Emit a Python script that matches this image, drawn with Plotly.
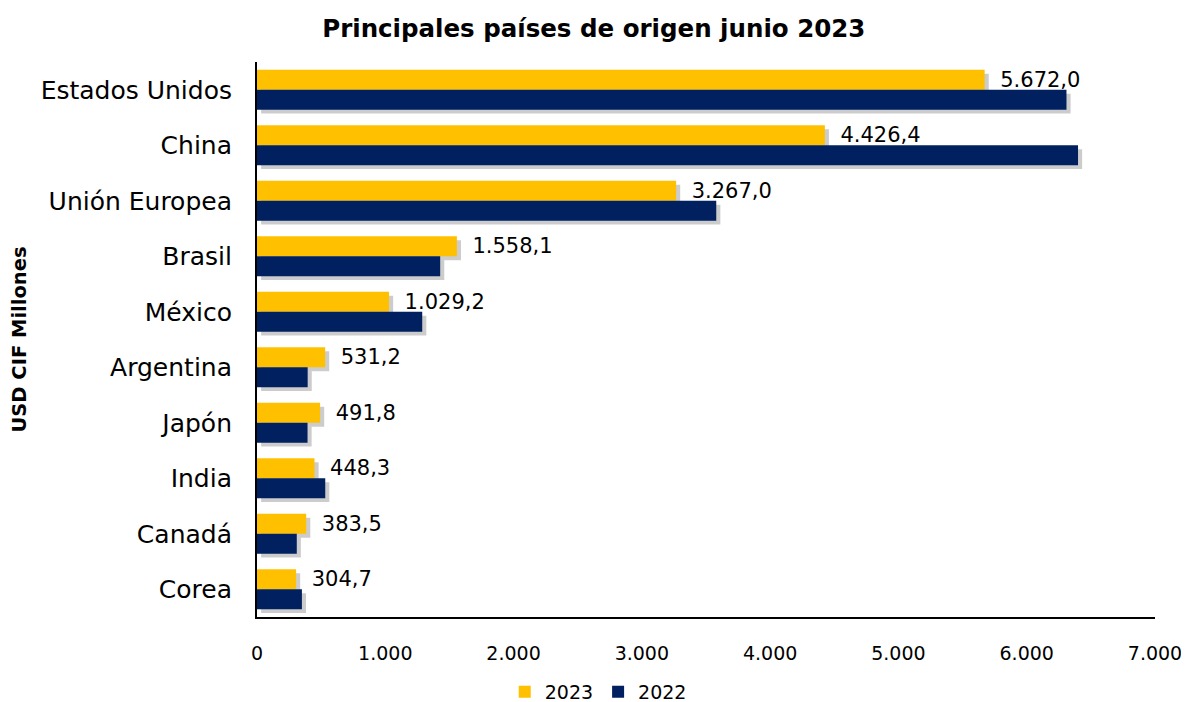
import plotly.graph_objects as go

paises = ["Estados Unidos", "China", "Unión Europea", "Brasil", "México",
          "Argentina", "Japón", "India", "Canadá", "Corea"]
valores_2023 = [5672.0, 4426.4, 3267.0, 1558.1, 1029.2,
                531.2, 491.8, 448.3, 383.5, 304.7]
valores_2022 = [6310, 6400, 3580, 1428, 1288, 395, 394, 532, 310, 350]
x_ticks = [0, 1000, 2000, 3000, 4000, 5000, 6000, 7000]

ORO = "#FFC000"
AZUL = "#002060"
SOMBRA = "rgba(0,0,0,0.2)"
FUENTE = "DejaVu Sans"

ANCHO = 0.36          # grosor de cada barra (unidades de categoría)
SOMBRA_DY = 0.07      # desplazamiento vertical de la sombra
SOMBRA_DX = 32        # desplazamiento horizontal de la sombra (USD)

fig = go.Figure()

# sombras estilo Excel, debajo de las barras
for vals, off in [(valores_2023, -ANCHO), (valores_2022, 0)]:
    fig.add_trace(go.Bar(
        y=paises, x=vals, base=SOMBRA_DX, orientation="h",
        width=ANCHO, offset=off + SOMBRA_DY,
        marker=dict(color=SOMBRA, line=dict(width=0)),
        showlegend=False, hoverinfo="skip",
    ))

fig.add_trace(go.Bar(
    y=paises, x=valores_2023, name="2023", orientation="h",
    width=ANCHO, offset=-ANCHO,
    marker=dict(color=ORO, line=dict(width=0)),
    texttemplate="\u2002\u200a%{x:,.1f}", textposition="outside",
    constraintext="none",
    textfont=dict(family=FUENTE, size=21, color="#000000"),
    cliponaxis=False,
))
fig.add_trace(go.Bar(
    y=paises, x=valores_2022, name="2022", orientation="h",
    width=ANCHO, offset=0,
    marker=dict(color=AZUL, line=dict(width=0)),
))

# la página añade 8px de margen, por eso la figura es 8px menor
fig.update_layout(
    width=1181, height=694,
    barmode="overlay",
    separators=",.",
    plot_bgcolor="white", paper_bgcolor="white",
    margin=dict(l=249, r=34, t=54, b=85, autoexpand=False),
    font=dict(family=FUENTE, color="#000000"),
    title=dict(text="<b>Principales países de origen junio 2023</b>",
               x=0.496, xanchor="center", y=1 - 20 / 694, yanchor="middle",
               font=dict(family=FUENTE, size=24.5, color="#000000")),
    legend=dict(orientation="h", x=0.38, xanchor="center",
                y=-0.135, yanchor="middle",
                font=dict(family=FUENTE, size=19)),
    showlegend=True,
)
fig.update_xaxes(
    range=[0, 7000], tickvals=x_ticks, tickformat=",.0f",
    showgrid=False, zeroline=False, automargin=False,
    showline=True, linecolor="#000000", linewidth=2,
    ticks="", ticklabelstandoff=18,
    tickfont=dict(family=FUENTE, size=19),
)
fig.update_yaxes(
    range=[9.5, -0.5], showgrid=False, automargin=False,
    showline=True, linecolor="#000000", linewidth=2,
    ticks="", ticklabelstandoff=18,
    tickfont=dict(family=FUENTE, size=25),
)
fig.add_annotation(
    text="<b>USD CIF Millones</b>", textangle=-90,
    xref="paper", yref="paper", x=-0.265, y=0.5,
    xanchor="center", yanchor="middle", showarrow=False,
    font=dict(family=FUENTE, size=19.5, color="#000000"),
)

fig.write_html("out.html")
